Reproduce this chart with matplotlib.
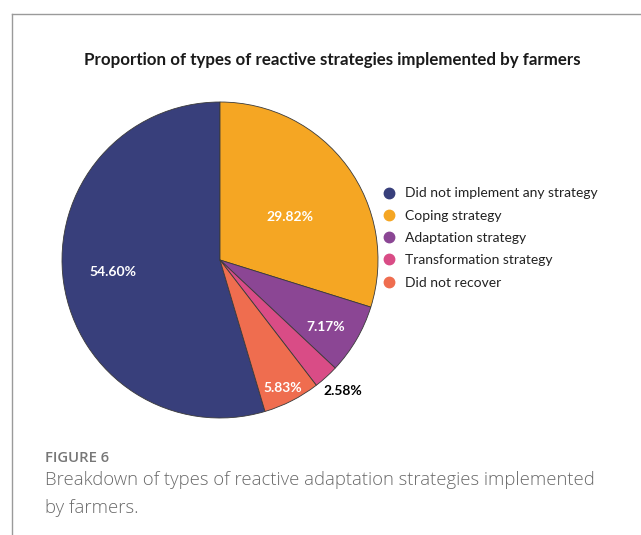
import numpy as np
import matplotlib
matplotlib.use("Agg")
import matplotlib.pyplot as plt
from matplotlib.lines import Line2D

# Data (legend order)
categories = [
    "Did not implement any strategy",
    "Coping strategy",
    "Adaptation strategy",
    "Transformation strategy",
    "Did not recover",
]
shares = [54.60, 29.82, 7.17, 2.58, 5.83]
colors = ["#383f7b", "#f5a623", "#8b4694", "#d94c86", "#ef6d4f"]

title = "Proportion of types of reactive strategies implemented by farmers"
fig_label = "FIGURE 6"
caption_lines = ["Breakdown of types of reactive adaptation strategies implemented",
                 "by farmers."]

W, H = 641, 535
fig = plt.figure(figsize=(W / 100, H / 100), dpi=100)
fig.patch.set_facecolor("white")

# frame lines of the figure panel
fig.add_artist(Line2D([12 / W, 1], [1 - 14 / H, 1 - 14 / H], color="#9a9a9a", lw=1))
fig.add_artist(Line2D([12 / W, 12 / W], [0, 1 - 14 / H], color="#9a9a9a", lw=1))

# pie axes: centre (220, 260), radius 158 px
cx, cy, r = 220, 260, 158
ax = fig.add_axes([(cx - r) / W, 1 - (cy + r) / H, 2 * r / W, 2 * r / H])
start = 90 + shares[0] * 3.6
wedges, _ = ax.pie(shares, colors=colors, startangle=start, counterclock=False,
                   wedgeprops=dict(edgecolor="#3a3a3a", linewidth=0.6))
ax.set_xlim(-1, 1)
ax.set_ylim(-1, 1)
ax.set_aspect("equal")

# percentage labels (radius, angle shift in degrees)
label_r = [0.68, 0.52, 0.79, 1.14, 0.90]
label_shift = [-2, -5, -2, 1, -1]
label_c = ["white", "white", "white", "black", "white"]
for w, val, rr, sh, col in zip(wedges, shares, label_r, label_shift, label_c):
    ang = np.deg2rad((w.theta1 + w.theta2) / 2 + sh)
    ax.text(rr * np.cos(ang), rr * np.sin(ang), f"{val:.2f}%",
            ha="center", va="center", color=col, fontsize=10,
            fontweight="bold", family="Lato")

fig.text(332 / W, 1 - 60 / H, title, ha="center", va="center",
         fontsize=12.15, fontweight="bold", family="Lato", color="#1a1a1a")

handles = [Line2D([], [], marker="o", linestyle="none", markersize=7.5,
                  markerfacecolor=c, markeredgecolor=c) for c in colors]
leg = fig.legend(handles, categories, loc="upper left",
                 bbox_to_anchor=(368 / W, 1 - 175 / H), frameon=False,
                 handletextpad=0.55, labelspacing=0.74, handlelength=1.2,
                 prop=dict(family="Lato", size=10))
for t in leg.get_texts():
    t.set_color("#222222")

fig.text(45 / W, 1 - 458 / H, fig_label, ha="left", va="center",
         fontsize=10.7, color="#777777", family="Open Sans", fontweight="semibold")
for i, line in enumerate(caption_lines):
    fig.text(45 / W, 1 - (480 + 28 * i) / H, line, ha="left", va="center",
             fontsize=13.3, color="#6a6a6a", family="Open Sans", fontweight="light")

fig.savefig("out.png", dpi=100)
